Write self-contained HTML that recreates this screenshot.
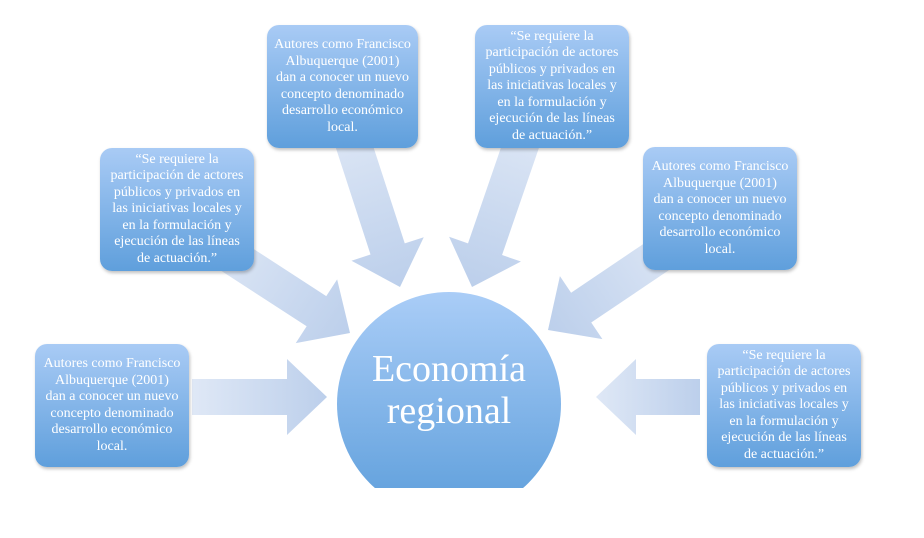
<!DOCTYPE html>
<html><head><meta charset="utf-8"><style>
body{margin:0;width:924px;height:538px;background:#fff;position:relative;overflow:hidden;font-family:"Liberation Serif",serif}
.b{position:absolute;width:154px;height:123px;border-radius:12px;background:linear-gradient(#a9cbf5,#5f9fdc);box-shadow:1px 2px 3px rgba(0,0,0,.25);color:#fff;font-size:14px;line-height:16.5px;text-align:center;display:flex;align-items:center;justify-content:center;box-sizing:border-box;padding:0;white-space:nowrap}
.c{position:absolute;left:337px;top:292px;width:224px;height:224px;border-radius:50%;background:linear-gradient(#aacdf7,#5d9edb);color:#fff;font-size:38px;line-height:42px;text-align:center;display:flex;align-items:center;justify-content:center;padding-bottom:28px;box-sizing:border-box}
.clip{position:absolute;left:0;top:0;width:924px;height:488px;overflow:hidden}
</style></head><body>
<svg width="924" height="538" style="position:absolute;left:0;top:0">
<defs><linearGradient id="g" x1="0" y1="0" x2="1" y2="0"><stop offset="0" stop-color="#dfe8f6"/><stop offset="1" stop-color="#bccfeb"/></linearGradient></defs>
<g fill="url(#g)">
<path d="M192,379 L287,379 L287,359 L327,397 L287,435 L287,415 L192,415Z"/>
<path d="M700,379 L636,379 L636,359 L596,397 L636,435 L636,415 L700,415Z"/>
<g transform="translate(350,333) rotate(33)"><path d="M-170,-18 L-40,-18 L-40,-38 L0,0 L-40,38 L-40,18 L-170,18Z"/></g>
<g transform="translate(400,287) rotate(72)"><path d="M-180,-18 L-40,-18 L-40,-38 L0,0 L-40,38 L-40,18 L-180,18Z"/></g>
<g transform="translate(472,287) rotate(109)"><path d="M-180,-18 L-40,-18 L-40,-38 L0,0 L-40,38 L-40,18 L-180,18Z"/></g>
<g transform="translate(548,330) rotate(146)"><path d="M-170,-18 L-40,-18 L-40,-38 L0,0 L-40,38 L-40,18 L-170,18Z"/></g>
</g></svg>
<div class="b" style="left:267px;top:25px;width:151px"><div>Autores como Francisco<br>Albuquerque (2001)<br>dan a conocer un nuevo<br>concepto denominado<br>desarrollo económico<br>local.</div></div>
<div class="b" style="left:475px;top:25px"><div>“Se requiere la<br>participación de actores<br>públicos y privados en<br>las iniciativas locales y<br>en la formulación y<br>ejecución de las líneas<br>de actuación.”</div></div>
<div class="b" style="left:100px;top:148px"><div>“Se requiere la<br>participación de actores<br>públicos y privados en<br>las iniciativas locales y<br>en la formulación y<br>ejecución de las líneas<br>de actuación.”</div></div>
<div class="b" style="left:643px;top:147px"><div>Autores como Francisco<br>Albuquerque (2001)<br>dan a conocer un nuevo<br>concepto denominado<br>desarrollo económico<br>local.</div></div>
<div class="b" style="left:35px;top:344px"><div>Autores como Francisco<br>Albuquerque (2001)<br>dan a conocer un nuevo<br>concepto denominado<br>desarrollo económico<br>local.</div></div>
<div class="b" style="left:707px;top:344px"><div>“Se requiere la<br>participación de actores<br>públicos y privados en<br>las iniciativas locales y<br>en la formulación y<br>ejecución de las líneas<br>de actuación.”</div></div>
<div class="clip"><div class="c">Economía<br>regional</div></div>
</body></html>
